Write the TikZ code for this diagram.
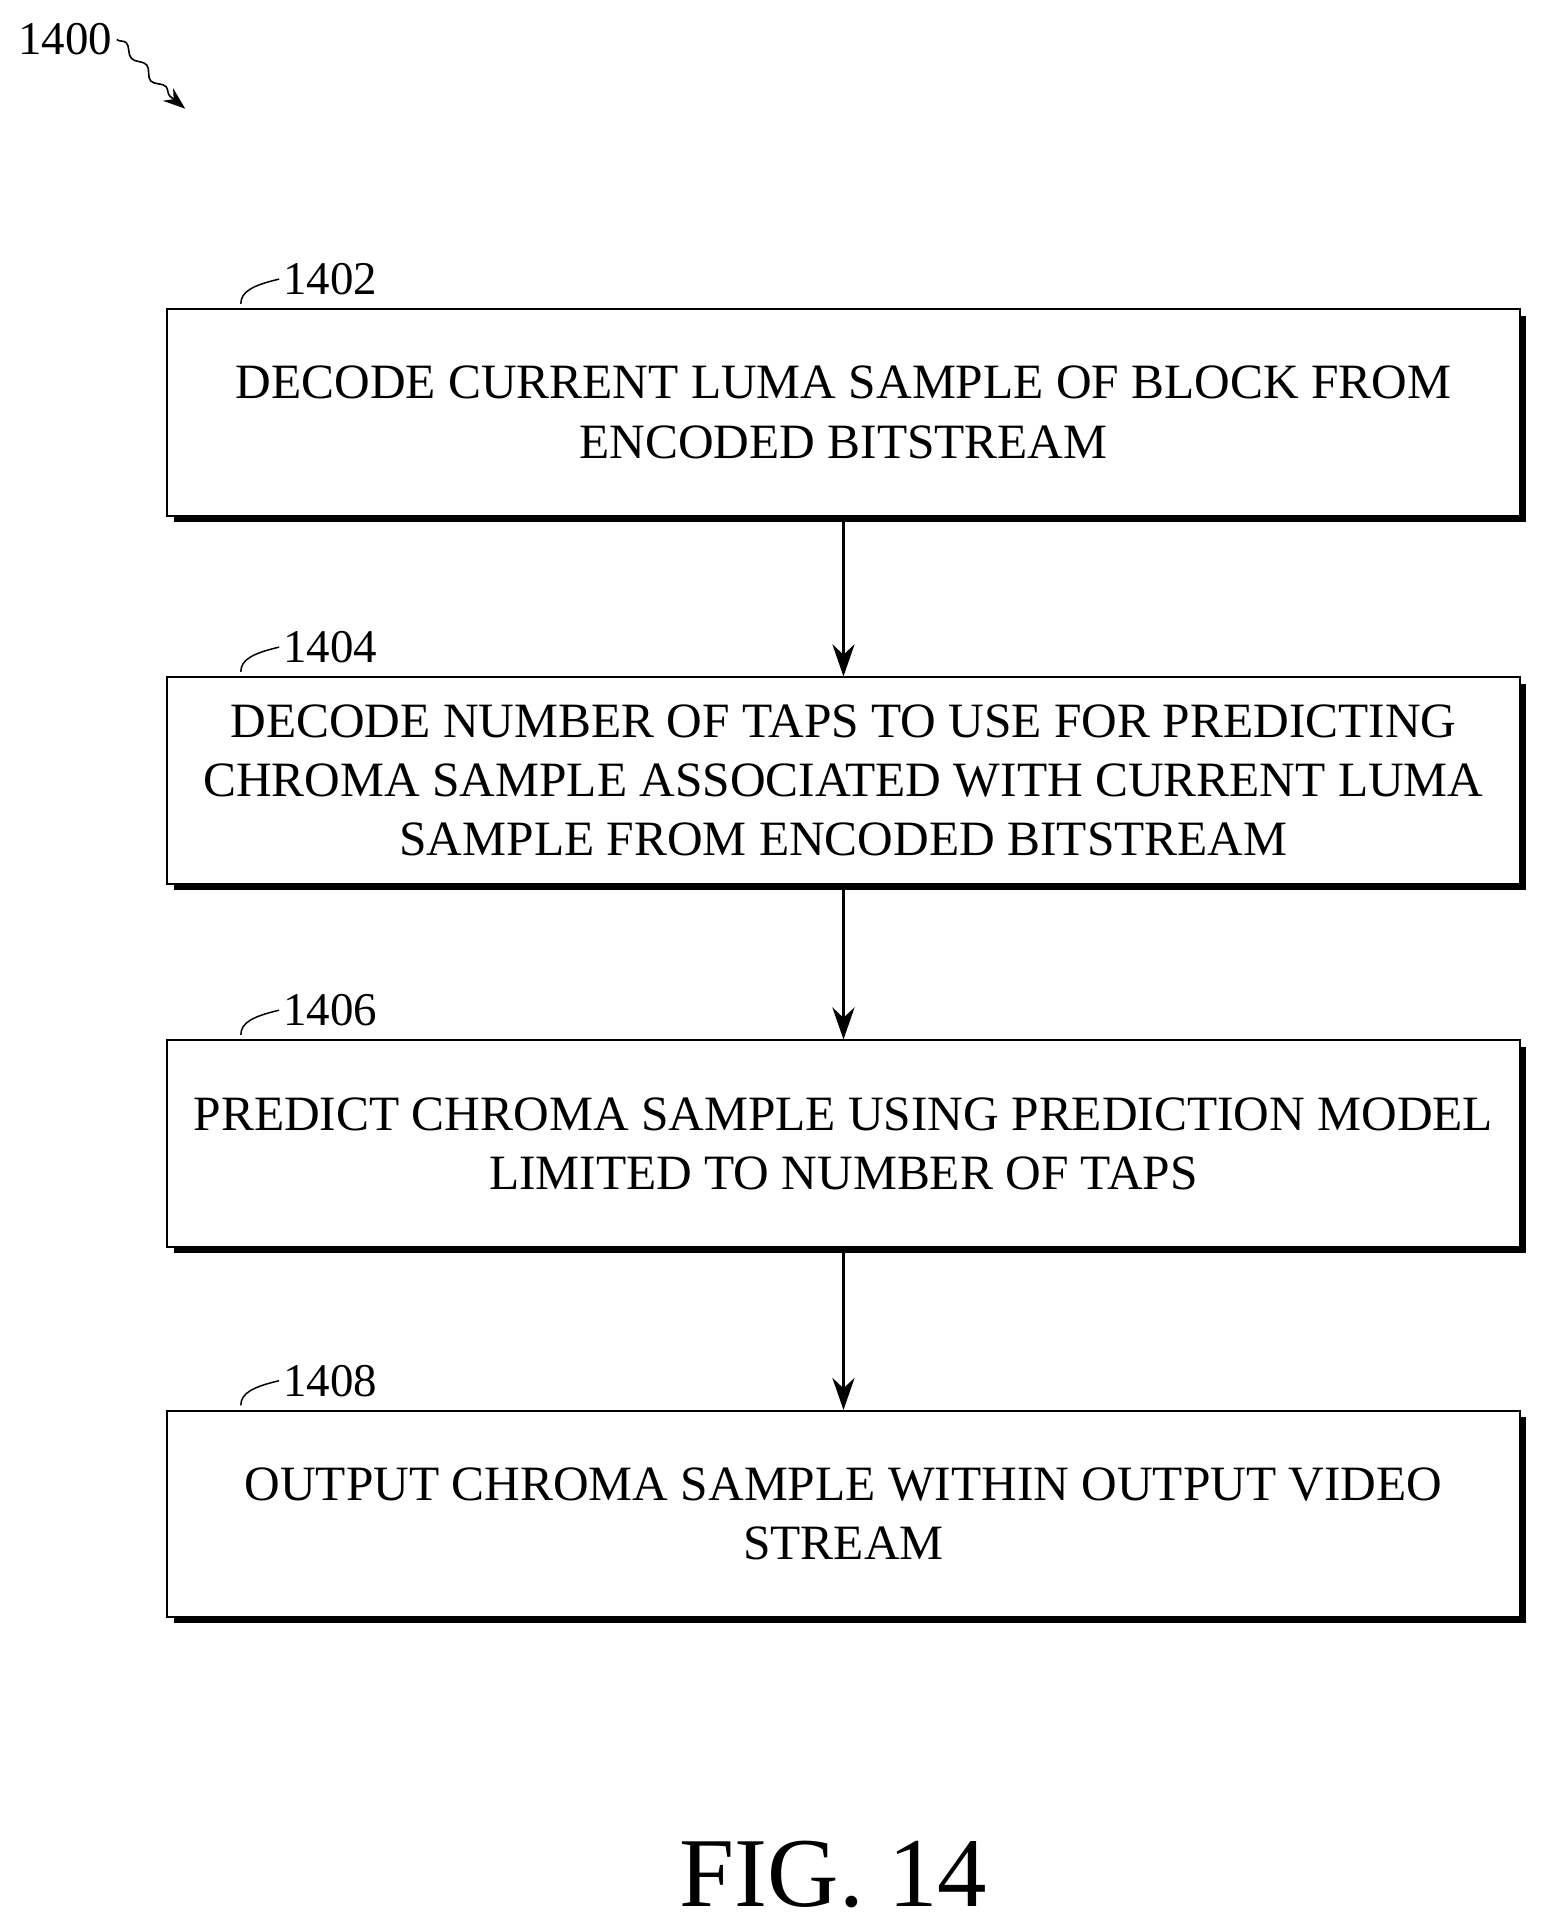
\documentclass[tikz,border=0pt]{standalone}
\usepackage{fontspec}
\setmainfont{Liberation Serif}
\usetikzlibrary{arrows.meta,decorations.pathmorphing}
\begin{document}
\begin{tikzpicture}[x=1pt,y=-1pt,
  box/.style={draw,line width=1.6pt,fill=white,minimum width=1095pt,minimum height=167pt,align=center,font=\fontsize{40}{48}\selectfont,inner sep=0pt},
  shad/.style={fill=black,minimum width=1095pt,minimum height=167pt,inner sep=0pt},
  lbl/.style={font=\fontsize{38}{40}\selectfont,anchor=west},
  arr/.style={line width=1.8pt,-{Stealth[length=26pt,width=18pt]}}]
\useasboundingbox (0,0) rectangle (1250,1562);
\foreach \y in {334,632,926,1226}{\node[shad] at (688,\y+5) {};}
\node[box] (b1) at (683,334) {DECODE CURRENT LUMA SAMPLE OF BLOCK FROM\\ENCODED BITSTREAM};
\node[box] (b2) at (683,632) {DECODE NUMBER OF TAPS TO USE FOR PREDICTING\\CHROMA SAMPLE ASSOCIATED WITH CURRENT LUMA\\SAMPLE FROM ENCODED BITSTREAM};
\node[box] (b3) at (683,926) {PREDICT CHROMA SAMPLE USING PREDICTION MODEL\\LIMITED TO NUMBER OF TAPS};
\node[box] (b4) at (683,1226) {OUTPUT CHROMA SAMPLE WITHIN OUTPUT VIDEO\\STREAM};
\draw[arr] (b1.south) -- (b2.north);
\draw[arr] (b2.south) -- (b3.north);
\draw[arr] (b3.south) -- (b4.north);
\foreach \y/\t/\n in {226/1402/l1,524/1404/l2,818/1406/l3,1118/1408/l4}{
  \node[lbl] (\n) at (226,\y) {\t};
  \draw[line width=1.2pt] (195,\y+20) .. controls (195,\y+10) and (205,\y+5) .. (\n.west);
}
\node[font=\fontsize{38}{40}\selectfont] (top) at (53,32) {1400};
\coordinate (te) at (150,88);
\draw[line width=1.3pt,-{Stealth[length=18pt,width=13pt]},decorate,decoration={snake,amplitude=3pt,segment length=24pt,post length=14pt}] (top.east) .. controls (110,45) and (120,65) .. (te);
\node[font=\fontsize{80}{80}\selectfont] (fig) at (675,1518) {FIG. 14};
\end{tikzpicture}
\end{document}
